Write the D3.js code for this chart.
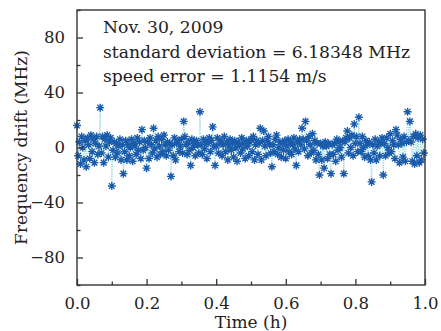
<!DOCTYPE html>
<html>
<head>
<meta charset="utf-8">
<script src="https://cdn.jsdelivr.net/npm/d3@7"></script>
<style>
  html, body { margin: 0; padding: 0; background: #fff; }
  svg { display: block; }
</style>
</head>
<body>
<svg id="chart"></svg>
<script>
// sample times in seconds (axis shows hours)
const seconds = [
     0,  12,  24,  36,  48,  60,  72,  84,  96, 108,
   120, 132, 144, 156, 168, 180, 192, 204, 216, 228,
   240, 252, 264, 276, 288, 300, 312, 324, 336, 348,
   360, 372, 384, 396, 408, 420, 432, 444, 456, 468,
   480, 492, 504, 516, 528, 540, 552, 564, 576, 588,
   600, 612, 624, 636, 648, 660, 672, 684, 696, 708,
   720, 732, 744, 756, 768, 780, 792, 804, 816, 828,
   840, 852, 864, 876, 888, 900, 912, 924, 936, 948,
   960, 972, 984, 996,1008,1020,1032,1044,1056,1068,
  1080,1092,1104,1116,1128,1140,1152,1164,1176,1188,
  1200,1212,1224,1236,1248,1260,1272,1284,1296,1308,
  1320,1332,1344,1356,1368,1380,1392,1404,1416,1428,
  1440,1452,1464,1476,1488,1500,1512,1524,1536,1548,
  1560,1572,1584,1596,1608,1620,1632,1644,1656,1668,
  1680,1692,1704,1716,1728,1740,1752,1764,1776,1788,
  1800,1812,1824,1836,1848,1860,1872,1884,1896,1908,
  1920,1932,1944,1956,1968,1980,1992,2004,2016,2028,
  2040,2052,2064,2076,2088,2100,2112,2124,2136,2148,
  2160,2172,2184,2196,2208,2220,2232,2244,2256,2268,
  2280,2292,2304,2316,2328,2340,2352,2364,2376,2388,
  2400,2412,2424,2436,2448,2460,2472,2484,2496,2508,
  2520,2532,2544,2556,2568,2580,2592,2604,2616,2628,
  2640,2652,2664,2676,2688,2700,2712,2724,2736,2748,
  2760,2772,2784,2796,2808,2820,2832,2844,2856,2868,
  2880,2892,2904,2916,2928,2940,2952,2964,2976,2988,
  3000,3012,3024,3036,3048,3060,3072,3084,3096,3108,
  3120,3132,3144,3156,3168,3180,3192,3204,3216,3228,
  3240,3252,3264,3276,3288,3300,3312,3324,3336,3348,
  3360,3372,3384,3396,3408,3420,3432,3444,3456,3468,
  3480,3492,3504,3516,3528,3540,3552,3564,3576,3588
];

// frequency drift in MHz
const drift = [
   16, -6,  4,-12,  8,  0, -9,  5,-14,  7,
    2, -8,  9, -3,  6,-11,  3,  8, -5,  1,
   29, -4,  8,-11,  6,  1,  9, -7,  4,  7,
  -28, -2,  4, -7,  3, -4,  1,  6, -9,  2,
  -19, -3,  5, -9,  2, -6,  0,  6,-10,  3,
    1, -5,  7, -2,  4, -8, 13, -2,  5,  0,
  -15,  4, -8,  7,  2, -4, 14, -1,  5, -7,
    8,  1, -5,  6, -3,  9,  2, -6,  4, -2,
    3,-21,  2, -6,  7, -9,  3,  5, -3,  1,
    6, -4, 19,  8,  2, -5,  4, -2,-13,  6,
    0,  3, -6,  5,  2, -4, 26,  2, -5,  6,
   -1,  4, -8,  3,  7, -3,  5, 15,  1,-13,
    1,  7, -4,  3,  5, -6,  2,  8, -3,  4,
   -9,  1,  6, -2,  3, -7,  5,  0,-10,  4,
    2, -4,  7, -1,  3, -8,  5,  1, -6,  4,
    6, -3,  8, -9,  2,  5, -5,  3, 14, -9,
    5, 12,  1, -6,  5,  8,  2, -4,-14,  2,
   -3,  6,  9, -5,  0,  4, -7,  3, -2,  5,
   -8,  1,  6, -3,  4, -5,  2,  7, -1,-13,
    4, -3,  6,  2, 14,  6, -1, 19,  5, -6,
    8,  2, -4, 10, -2,  5, -9,  3, -5,-20,
    3, -9,  1,-15,  4,  1, -8,  3, -5,-19,
    2, -5,  3,-10,  6, -2,  4,  0, -7,  5,
  -19,  4,  7, 12, -4,  7,  0,  9, -6, 17,
    3,  8, -3, 22,  3, -3,  8,  0, -7,  5,
    2, -6,  4, -9,-25,  2, -4,  6, -9,  1,
    4, -6,  3,  7,-20,  3, -6,  7,  0, -4,
   10, -3,  5,  2, -8, 13,  9,  2,-11,  6,
    3, -7,  8,-10,  4, 26,  5, 19,  4,-10,
    8,-12, 10, -6,  7,-11,  9, -9,  6, -4
];

const xTicks = [0, 0.2, 0.4, 0.6, 0.8, 1.0];
const xMinorTicks = [0.1, 0.3, 0.5, 0.7, 0.9];
const yTicks = [-80, -40, 0, 40, 80];
const yMinorTicks = [-100, -60, -20, 20, 60, 100];
const notes = ["Nov. 30, 2009", "standard deviation = 6.18348 MHz", "speed error = 1.1154 m/s"];

const width = 441, height = 331;
const marginTop = 10, marginRight = 16, marginBottom = 46, marginLeft = 77;
const font = "'DejaVu Serif', 'Liberation Serif', serif";
const axisColor = "#333";
const markColor = "#1a5cab";
const lineColor = "#8fd8dc";

const svg = d3.select("#chart")
  .attr("width", width)
  .attr("height", height)
  .attr("viewBox", [0, 0, width, height]);

const xScale = d3.scaleLinear([0, 1], [marginLeft, width - marginRight]);
const yScale = d3.scaleLinear([-100, 100], [height - marginBottom, marginTop]);

const data = d3.range(drift.length).map(i => ({t: seconds[i] / 3600, v: drift[i]}));

// connecting line
svg.append("path")
  .datum(data)
  .attr("fill", "none")
  .attr("stroke", lineColor)
  .attr("stroke-width", 1)
  .attr("stroke-dasharray", "1.2,1.2")
  .attr("d", d3.line().x(d => xScale(d.t)).y(d => yScale(d.v)));

// asterisk markers
const r = 4, rd = r * 0.72;
const star = `M${-r},0L${r},0M0,${-r}L0,${r}M${-rd},${-rd}L${rd},${rd}M${-rd},${rd}L${rd},${-rd}`;
svg.append("g")
  .attr("stroke", markColor)
  .attr("stroke-width", 1.4)
  .attr("fill", "none")
  .selectAll("path")
  .data(data)
  .join("path")
  .attr("transform", d => `translate(${xScale(d.t)},${yScale(d.v)})`)
  .attr("d", star);

// frame
svg.append("rect")
  .attr("x", xScale(0))
  .attr("y", yScale(100))
  .attr("width", xScale(1) - xScale(0))
  .attr("height", yScale(-100) - yScale(100))
  .attr("fill", "none")
  .attr("stroke", axisColor)
  .attr("stroke-width", 1.4);

// x axis (ticks pointing inward)
svg.append("g")
  .attr("transform", `translate(0,${height - marginBottom})`)
  .call(d3.axisBottom(xScale).tickValues(xTicks).tickFormat(d3.format(".1f")).tickSizeInner(-6).tickSizeOuter(0).tickPadding(12))
  .call(g => g.select(".domain").remove())
  .call(g => g.selectAll(".tick line").attr("stroke", axisColor).attr("stroke-width", 1.3))
  .call(g => g.selectAll(".tick text").attr("font-family", font).attr("font-size", 16.5).attr("fill", "#222"));

svg.append("g")
  .attr("transform", `translate(0,${height - marginBottom})`)
  .call(d3.axisBottom(xScale).tickValues(xMinorTicks).tickFormat("").tickSizeInner(-3.5).tickSizeOuter(0))
  .call(g => g.select(".domain").remove())
  .call(g => g.selectAll(".tick line").attr("stroke", axisColor).attr("stroke-width", 1.3));

// y axis
svg.append("g")
  .attr("transform", `translate(${marginLeft},0)`)
  .call(d3.axisLeft(yScale).tickValues(yTicks).tickFormat(d => d < 0 ? "\u2212" + Math.abs(d) : d).tickSizeInner(-6).tickSizeOuter(0).tickPadding(12))
  .call(g => g.select(".domain").remove())
  .call(g => g.selectAll(".tick line").attr("stroke", axisColor).attr("stroke-width", 1.3))
  .call(g => g.selectAll(".tick text").attr("font-family", font).attr("font-size", 16.5).attr("fill", "#222"));

svg.append("g")
  .attr("transform", `translate(${marginLeft},0)`)
  .call(d3.axisLeft(yScale).tickValues(yMinorTicks).tickFormat("").tickSizeInner(-3.5).tickSizeOuter(0))
  .call(g => g.select(".domain").remove())
  .call(g => g.selectAll(".tick line").attr("stroke", axisColor).attr("stroke-width", 1.3));

// axis titles
svg.append("text")
  .attr("x", (xScale(0) + xScale(1)) / 2)
  .attr("y", height - 3)
  .attr("text-anchor", "middle")
  .attr("font-family", font)
  .attr("font-size", 17)
  .attr("fill", "#222")
  .text("Time (h)");

svg.append("text")
  .attr("transform", `translate(27,${yScale(0)}) rotate(-90)`)
  .attr("text-anchor", "middle")
  .attr("font-family", font)
  .attr("font-size", 17)
  .attr("fill", "#222")
  .text("Frequency drift (MHz)");

// annotation block
svg.append("g")
  .attr("font-family", font)
  .attr("font-size", 17.2)
  .attr("fill", "#222")
  .selectAll("text")
  .data(notes)
  .join("text")
  .attr("x", xScale(0) + 26)
  .attr("y", (d, i) => 33 + i * 24.5)
  .text(d => d);
</script>
</body>
</html>
